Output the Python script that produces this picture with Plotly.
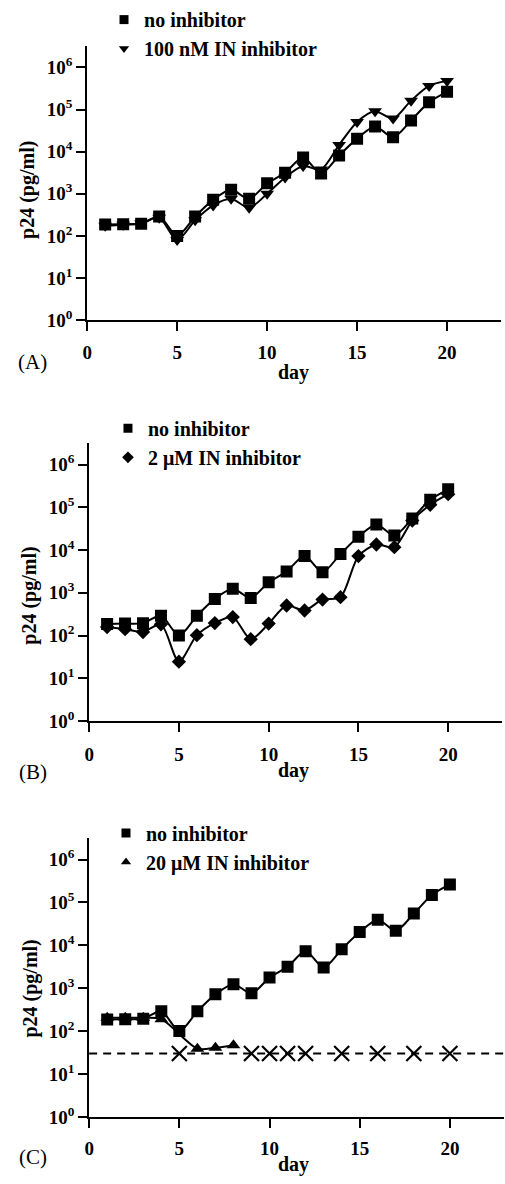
import plotly.graph_objects as go

# ---------------- data ----------------
days = list(range(1, 21))
no_inhibitor = [186, 190, 195, 290, 100, 290, 720, 1240, 760, 1770, 3160, 7250,
                3040, 8100, 20400, 39800, 22000, 55000, 150000, 264000]
inh_100nM = [175, 185, 200, 270, 80, 235, 530, 760, 465, 1000, 2440, 4550,
             3800, 14500, 51000, 91000, 61000, 163000, 365000, 480000]
inh_2uM = [158, 141, 121, 183, 24.5, 102, 196, 270, 82, 190, 505, 385,
           695, 790, 7250, 13500, 11700, 49000, 115000, 203000]
inh_20uM_days = [1, 2, 3, 4, 6, 7, 8]
inh_20uM = [205, 205, 205, 190, 39, 41, 47]
undetected_days = [5, 9, 10, 11, 12, 14, 16, 18, 20]
undetected_vals = [30, 30, 30, 30, 30, 30, 30, 30, 30]
detection_limit = 30

x_ticks = [0, 5, 10, 15, 20]
y_ticks = [1, 10, 100, 1000, 10000, 100000, 1000000]
y_ticktext = ["10<sup>0</sup>", "10<sup>1</sup>", "10<sup>2</sup>", "10<sup>3</sup>",
              "10<sup>4</sup>", "10<sup>5</sup>", "10<sup>6</sup>"]

panel_labels = ["(A)", "(B)", "(C)"]
legend_names = [["no inhibitor", "100 nM IN inhibitor"],
                ["no inhibitor", "2 μM IN inhibitor"],
                ["no inhibitor", "20 μM IN inhibitor"]]

# ---------------- layout helpers ----------------
W, H = 505, 1184
SERIF = "Liberation Serif, Times New Roman, serif"


def fx(px):
    return px / W


def fy(py):
    return 1 - py / H


# panel geometry in pixels: (x_left, x_right, y_top, y_bottom)
geo = [(83, 501, 40, 318), (85, 502, 443, 725), (85, 504, 844, 1127)]
tick_standoff = [5, 6, 4]
legend_top = [-7, 408, 819]
legend_left = [100, 104, 102]
label_y = [360, 777, 1168]
day_y = [371, 775, 1175]
ytitle = [(22, 186), (25, 598), (26, 997)]

fig = go.Figure()

line_style = dict(color="black", width=2, shape="spline", smoothing=0.8)

series_sets = [
    (days, inh_100nM, "triangle-down", 12),
    (days, inh_2uM, "diamond", 11),
    (inh_20uM_days, inh_20uM, "triangle-up", 12),
]
legend_symbols = [["square", "triangle-down"], ["square", "diamond"], ["square", "triangle-up"]]

for i in range(3):
    xa = "x" if i == 0 else f"x{i+1}"
    ya = "y" if i == 0 else f"y{i+1}"
    lg = "legend" if i == 0 else f"legend{i+1}"
    sx, sy, sym, size = series_sets[i]
    if i == 2:
        fig.add_trace(go.Scatter(
            x=undetected_days, y=undetected_vals, mode="markers",
            marker=dict(symbol="x-thin-open", size=15, color="black",
                        line=dict(color="black", width=2.2)),
            xaxis=xa, yaxis=ya, showlegend=False))
    fig.add_trace(go.Scatter(
        x=sx, y=sy, mode="lines+markers", line=line_style,
        marker=dict(symbol=sym, size=size, color="black"),
        xaxis=xa, yaxis=ya, showlegend=False))
    fig.add_trace(go.Scatter(
        x=days, y=no_inhibitor, mode="lines+markers", line=line_style,
        marker=dict(symbol="square", size=12, color="black"),
        xaxis=xa, yaxis=ya, showlegend=False))
    # legend-only entries (markers only)
    for name, s in zip(legend_names[i], legend_symbols[i]):
        fig.add_trace(go.Scatter(
            x=[None], y=[None], mode="markers", name=name,
            marker=dict(symbol=s, size=9, color="black"),
            xaxis=xa, yaxis=ya, legend=lg, showlegend=True))

axis_common = dict(showline=True, linecolor="black", linewidth=2,
                   ticks="outside", ticklen=9, tickwidth=2, tickcolor="black",
                   showgrid=False, zeroline=False,
                   tickfont=dict(family=SERIF, size=19, color="black", weight="bold"))

layout = dict(width=W, height=H, margin=dict(l=0, r=0, t=0, b=0),
              paper_bgcolor="white", plot_bgcolor="white", annotations=[], shapes=[])

for i in range(3):
    xl, xr, yt, yb = geo[i]
    xk = "xaxis" if i == 0 else f"xaxis{i+1}"
    yk = "yaxis" if i == 0 else f"yaxis{i+1}"
    ya = "y" if i == 0 else f"y{i+1}"
    xa = "x" if i == 0 else f"x{i+1}"
    layout[xk] = dict(axis_common, domain=[fx(xl), fx(xr)], range=[0, 23],
                      tickvals=x_ticks, anchor=ya, ticklabelstandoff=tick_standoff[i])
    layout[yk] = dict(axis_common, domain=[fy(yb), fy(yt)], type="log", range=[0, 6.5],
                      tickvals=y_ticks, ticktext=y_ticktext, anchor=xa)
    lg = "legend" if i == 0 else f"legend{i+1}"
    layout[lg] = dict(x=fx(legend_left[i]), y=fy(legend_top[i]), xanchor="left", yanchor="top",
                      bgcolor="rgba(0,0,0,0)",
                      font=dict(family=SERIF, size=20, color="black", weight="bold"))
    layout["annotations"].append(dict(
        text=panel_labels[i], xref="paper", yref="paper", x=fx(28), y=fy(label_y[i]),
        showarrow=False, xanchor="center", yanchor="middle",
        font=dict(family=SERIF, size=21, color="black")))
    layout["annotations"].append(dict(
        text="day", xref="paper", yref="paper", x=fx(291), y=fy(day_y[i]),
        showarrow=False, xanchor="center", yanchor="middle",
        font=dict(family=SERIF, size=20, color="black", weight="bold")))
    layout["annotations"].append(dict(
        text="p24 (pg/ml)", xref="paper", yref="paper", x=fx(ytitle[i][0]), y=fy(ytitle[i][1]),
        showarrow=False, xanchor="center", yanchor="middle", textangle=-90,
        font=dict(family=SERIF, size=20, color="black", weight="bold")))

# detection limit dashed line in panel C
layout["shapes"].append(dict(type="line", xref="x3 domain", yref="y3",
                             x0=0, x1=1, y0=detection_limit, y1=detection_limit,
                             line=dict(color="black", width=2, dash="8px,6px"), layer="below"))

fig.update_layout(**layout)
fig.write_html("out.html", config={"displayModeBar": False},
               post_script="document.body.style.margin='0';document.body.style.overflow='hidden';")
